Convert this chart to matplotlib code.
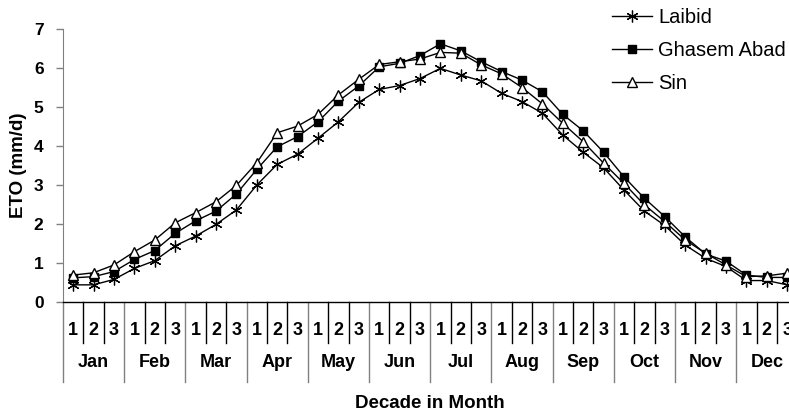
import matplotlib.pyplot as plt
import numpy as np

plt.rcParams['font.family'] = ['Liberation Sans', 'DejaVu Sans']

months = ['Jan', 'Feb', 'Mar', 'Apr', 'May', 'Jun',
          'Jul', 'Aug', 'Sep', 'Oct', 'Nov', 'Dec']
decades = ['1', '2', '3']

# ET0 per decade (mm/d), Jan-1 .. Dec-3
laibid = [0.44, 0.44, 0.58, 0.86, 1.06, 1.44, 1.69, 1.99, 2.36,
          3.00, 3.53, 3.79, 4.20, 4.62, 5.12, 5.45, 5.55, 5.73,
          5.99, 5.82, 5.67, 5.35, 5.14, 4.84, 4.28, 3.84, 3.44,
          2.87, 2.33, 1.96, 1.46, 1.12, 0.91, 0.55, 0.55, 0.44]
ghasem = [0.62, 0.65, 0.78, 1.09, 1.32, 1.76, 2.08, 2.33, 2.77,
          3.40, 3.98, 4.24, 4.62, 5.15, 5.54, 6.03, 6.12, 6.32,
          6.62, 6.44, 6.16, 5.91, 5.69, 5.39, 4.81, 4.39, 3.84,
          3.21, 2.66, 2.19, 1.67, 1.23, 1.05, 0.69, 0.63, 0.63]
sin = [0.69, 0.75, 0.95, 1.29, 1.59, 2.03, 2.29, 2.57, 2.99,
       3.57, 4.34, 4.51, 4.81, 5.31, 5.71, 6.09, 6.16, 6.23,
       6.40, 6.38, 6.08, 5.85, 5.50, 5.08, 4.58, 4.11, 3.56,
       3.04, 2.49, 2.06, 1.59, 1.25, 0.95, 0.65, 0.67, 0.74]

n = len(months) * len(decades)
x = np.arange(n) + 0.5

fig = plt.figure(figsize=(7.89, 4.12), dpi=100)
ax = fig.add_axes([63/789, 1 - 302/412, 734.4/789, 273/412])

ax.plot(x, laibid, color='black', lw=1, marker=(6, 2, 0), ms=8.5, mew=0.9,
        label='Laibid')
ax.plot(x, ghasem, color='black', lw=1, marker='s', ms=6,
        mfc='black', mec='black', label='Ghasem Abad')
ax.plot(x, sin, color='black', lw=1, marker='^', ms=7, mfc='white',
        mec='black', mew=1, label='Sin')

ax.set_xlim(0, n)
ax.set_ylim(0, 7)
ax.set_yticks(range(8))
ax.set_yticklabels([str(v) for v in range(8)], fontsize=12.5,
                   fontweight='bold')
ax.tick_params(axis='y', length=5, width=1, color='#808080', pad=9)
ax.set_xticks([])
for s in ['top', 'right']:
    ax.spines[s].set_visible(False)
ax.spines['left'].set_color('#808080')
ax.spines['bottom'].set_color('black')
ax.spines['bottom'].set_linewidth(1)

ax.set_ylabel('ETO (mm/d)', fontsize=13.5, fontweight='bold', labelpad=5)

# category table under the axis: decades then months
tr = ax.get_xaxis_transform()
for i in range(n):
    ax.text(i + 0.5, -0.103, decades[i % 3], transform=tr, ha='center',
            va='center', fontsize=13, fontweight='bold')
    if i % 3 != 0:
        ax.plot([i, i], [0, -0.150], transform=tr, color='black', lw=1,
                clip_on=False)
for m in range(len(months)):
    ax.plot([3*m, 3*m], [0, -0.293], transform=tr, color='#808080', lw=1,
            clip_on=False)
    ax.text(3*m + 1.5, -0.222, months[m], transform=tr, ha='center',
            va='center', fontsize=13, fontweight='bold')

ax.text(0.5, -0.372, 'Decade in Month', transform=ax.transAxes,
        ha='center', va='center', fontsize=13.5, fontweight='bold')

fig.legend(loc='upper left', bbox_to_anchor=(612/789, 1 - 8/412),
           frameon=False, fontsize=14.5, handlelength=2.0, handletextpad=0.3,
           labelspacing=0.7, borderpad=0, borderaxespad=0)

fig.savefig('out.png', dpi=100)
